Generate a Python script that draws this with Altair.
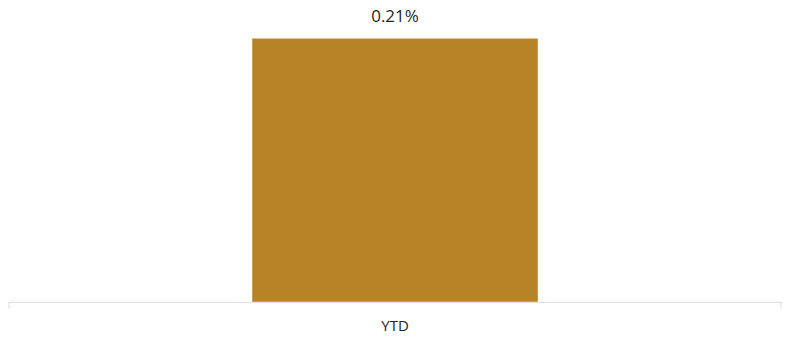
import altair as alt
import pandas as pd

categories = ["YTD"]
values = [0.0021]
labels = ["0.21%"]

df = pd.DataFrame({"cat": categories, "val": values, "label": labels})

W, H = 773, 292

x = alt.X("cat:N", title=None,
          scale=alt.Scale(paddingInner=0.46, paddingOuter=0.46),
          axis=alt.Axis(labelAngle=0, ticks=False, domainColor="#d9d9d9",
                        domainWidth=1, labelFont="Open Sans", labelFontSize=15,
                        labelColor="#262626", labelPadding=17))
y = alt.Y("val:Q", title=None, scale=alt.Scale(domain=[0, 0.002325], nice=False),
          axis=None)

bars = alt.Chart(df).mark_bar(color="#B88226").encode(x=x, y=y)
text = alt.Chart(df).mark_text(font="Open Sans", fontSize=17, color="#262626",
                               baseline="bottom", dy=-12).encode(x=x, y=y, text="label:N")

edge_l = alt.Chart(df).mark_rule(color="#d9d9d9").encode(
    x=alt.value(0), y=alt.value(H), y2=alt.value(H + 7))
edge_r = alt.Chart(df).mark_rule(color="#d9d9d9").encode(
    x=alt.value(W), y=alt.value(H), y2=alt.value(H + 7))

chart = alt.layer(bars, text, edge_l, edge_r).properties(
    width=W, height=H
).configure(padding=0, background="white").configure_view(stroke=None)

chart.save("out.html", embed_options={"renderer": "svg", "actions": False})
